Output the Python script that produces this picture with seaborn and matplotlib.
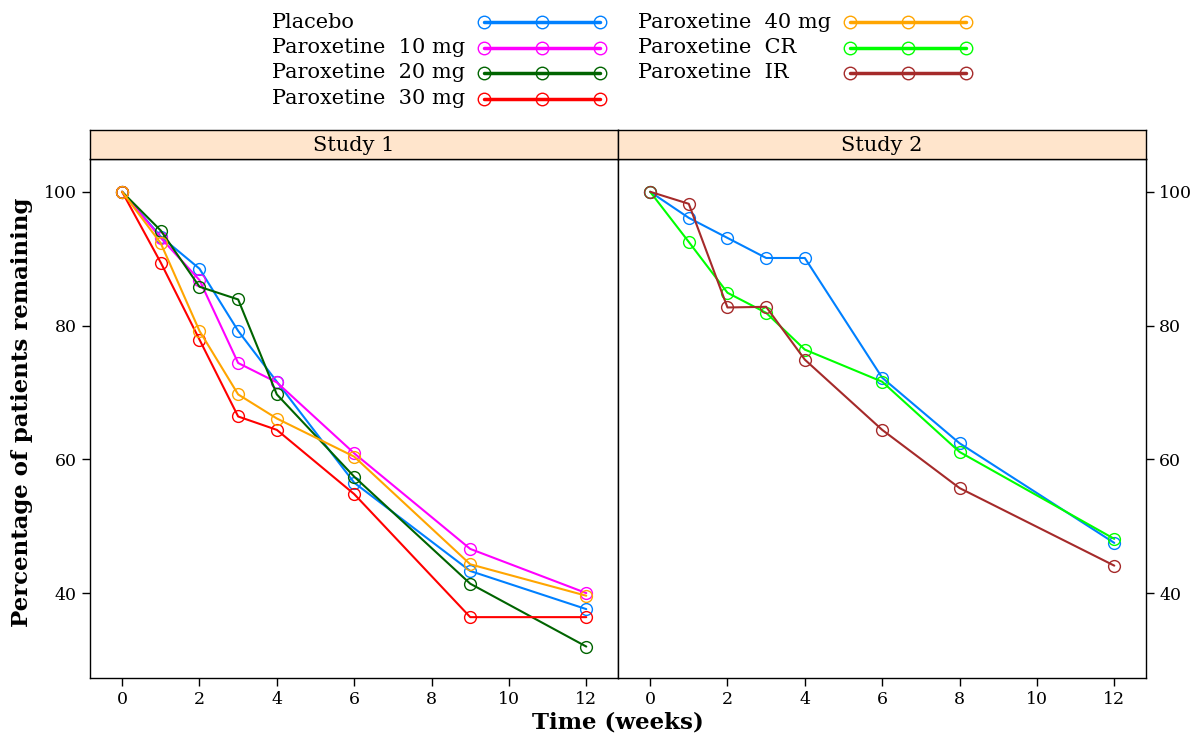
import numpy as np
import pandas as pd
import matplotlib
matplotlib.use("Agg")
import matplotlib.pyplot as plt
from matplotlib.lines import Line2D
import seaborn as sns

# ---------------- data ----------------
weeks_s1 = [0, 1, 2, 3, 4, 6, 9, 12]
placebo_s1 = [100, 93.3, 88.5, 79.2, 71.6, 56.5, 43.3, 37.6]
parox10_s1 = [100, 93.1, 86.8, 74.4, 71.5, 60.9, 46.6, 40.0]
parox20_s1 = [100, 94.2, 85.8, 83.9, 69.7, 57.4, 41.4, 32.0]
parox30_s1 = [100, 89.4, 77.9, 66.4, 64.4, 54.8, 36.4, 36.4]
parox40_s1 = [100, 92.3, 79.2, 69.7, 66.1, 60.4, 44.3, 39.6]

weeks_s2 = [0, 1, 2, 3, 4, 6, 8, 12]
placebo_s2 = [100, 96.1, 93.1, 90.1, 90.1, 72.2, 62.4, 47.5]
paroxcr_s2 = [100, 92.5, 84.9, 81.9, 76.4, 71.6, 61.1, 48.1]
paroxir_s2 = [100, 98.2, 82.7, 82.8, 74.9, 64.4, 55.7, 44.1]

series_names = ["Placebo", "Paroxetine  10 mg", "Paroxetine  20 mg", "Paroxetine  30 mg",
                "Paroxetine  40 mg", "Paroxetine  CR", "Paroxetine  IR"]
series_colors = ["#0080ff", "#ff00ff", "#006400", "#ff0000", "#ffa500", "#00ff00", "#a52a2a"]
panel_titles = ["Study 1", "Study 2"]
x_ticks = [0, 2, 4, 6, 8, 10, 12]
y_ticks = [40, 60, 80, 100]

palette = dict(zip(series_names, series_colors))

def long_df(weeks, named):
    rows = []
    for name, vals in named:
        for w, v in zip(weeks, vals):
            rows.append({"week": w, "pct": v, "treatment": name})
    return pd.DataFrame(rows)

df1 = long_df(weeks_s1, [(series_names[0], placebo_s1), (series_names[1], parox10_s1),
                         (series_names[2], parox20_s1), (series_names[3], parox30_s1),
                         (series_names[4], parox40_s1)])
df2 = long_df(weeks_s2, [(series_names[0], placebo_s2), (series_names[5], paroxcr_s2),
                         (series_names[6], paroxir_s2)])

# ---------------- figure ----------------
sns.set_style("white")
plt.rcParams["font.family"] = ["DejaVu Serif"]
plt.rcParams["text.color"] = "black"
plt.rcParams["axes.labelcolor"] = "black"
plt.rcParams["xtick.color"] = "black"
plt.rcParams["ytick.color"] = "black"
W, H = 1194, 738
fig = plt.figure(figsize=(W / 100, H / 100), dpi=100)

def fx(px):
    return px / W

def fy(py):
    return 1 - py / H

left0, mid, right1 = 90, 618, 1146
ptop, pbot, stop = 159, 678, 130

ax1 = fig.add_axes([fx(left0), fy(pbot), fx(mid - left0), fy(ptop) - fy(pbot)])
ax2 = fig.add_axes([fx(mid), fy(pbot), fx(right1 - mid), fy(ptop) - fy(pbot)])

for ax, df in [(ax1, df1), (ax2, df2)]:
    sns.lineplot(data=df, x="week", y="pct", hue="treatment", palette=palette,
                 estimator=None, marker="o", linewidth=1.5, legend=False, ax=ax)
    for ln in ax.lines:
        c = ln.get_color()
        ln.set_markerfacecolor("none")
        ln.set_markeredgecolor(c)
        ln.set_markersize(8.5)
        ln.set_markeredgewidth(1.0)
    ax.set_xlim(-0.83, 12.82)
    ax.set_ylim(27.3, 104.9)
    ax.set_xticks(x_ticks)
    ax.set_yticks(y_ticks)
    ax.set_xlabel("")
    ax.set_ylabel("")
    for s in ax.spines.values():
        s.set_color("black")
        s.set_linewidth(1.0)
        s.set_visible(True)
    ax.tick_params(axis="both", direction="out", length=6, width=1, color="black",
                   labelsize=12.5, labelcolor="black")

ax1.tick_params(axis="y", left=True, right=False, labelleft=True, labelright=False)
ax2.tick_params(axis="y", left=False, right=True, labelleft=False, labelright=True)
ax1.tick_params(axis="x", bottom=True, top=False)
ax2.tick_params(axis="x", bottom=True, top=False)

# strips
for x0, x1, title in [(left0, mid, panel_titles[0]), (mid, right1, panel_titles[1])]:
    sax = fig.add_axes([fx(x0), fy(ptop), fx(x1 - x0), fy(stop) - fy(ptop)])
    sax.set_facecolor("#ffe5cc")
    sax.set_xticks([])
    sax.set_yticks([])
    for s in sax.spines.values():
        s.set_color("black")
        s.set_linewidth(1.0)
    sax.text(0.5, 0.45, title, ha="center", va="center", fontsize=15, color="black",
             transform=sax.transAxes)

fig.text(fx(22), fy(412), "Percentage of patients remaining", rotation=90,
         ha="center", va="center", fontsize=16.5, fontweight="bold", color="black")
fig.text(fx((left0 + right1) / 2), fy(723), "Time (weeks)", ha="center", va="center",
         fontsize=16.5, fontweight="bold", color="black")

# legend (two columns: text left-aligned, line handle with three open circles)
legend_cols = [
    (272, 484, 600, [0, 1, 2, 3]),
    (638, 850, 966, [4, 5, 6]),
]
row_y = [22, 47.5, 73, 99]
for tx, hx0, hx1, idxs in legend_cols:
    for r, i in enumerate(idxs):
        yy = fy(row_y[r])
        fig.text(fx(tx), yy, series_names[i], ha="left", va="center", fontsize=15,
                 color="black")
        xs = np.linspace(fx(hx0), fx(hx1), 3)
        fig.add_artist(Line2D(xs, [yy] * 3, transform=fig.transFigure, color=series_colors[i],
                              linewidth=2.5, marker="o", markersize=9, markerfacecolor="none",
                              markeredgecolor=series_colors[i], markeredgewidth=1.0))

fig.savefig("out.png", dpi=100)
